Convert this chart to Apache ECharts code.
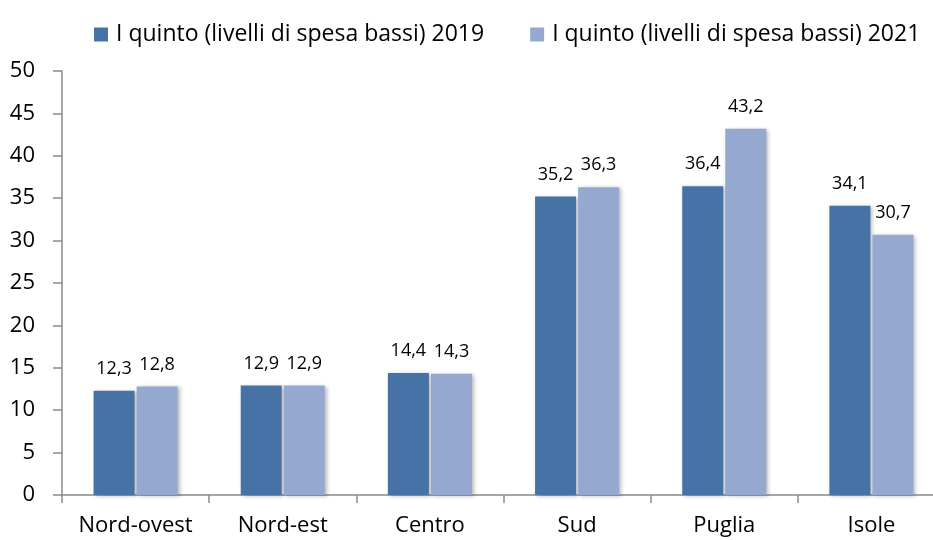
<!DOCTYPE html>
<html>
<head>
<meta charset="utf-8">
<title>I quinto - livelli di spesa bassi</title>
<script src="https://cdn.jsdelivr.net/npm/echarts@6/dist/echarts.min.js"></script>
<style>
  html, body { margin: 0; padding: 0; background: #fff; overflow: hidden; }
  /* il grafico originale è tagliato a destra: area più larga della finestra */
  #chart { width: 945px; height: 540px; }
</style>
</head>
<body>
<div id="chart"></div>
<script>
const categories = ['Nord-ovest', 'Nord-est', 'Centro', 'Sud', 'Puglia', 'Isole']
const seriesNames = ['I quinto (livelli di spesa bassi) 2019', 'I quinto (livelli di spesa bassi) 2021']
const values2019 = [12.3, 12.9, 14.4, 35.2, 36.4, 34.1]
const values2021 = [12.8, 12.9, 14.3, 36.3, 43.2, 30.7]
const colors = ['#4672A6', '#95A9D0']

const font = '"Open Sans", "Liberation Sans", sans-serif'

// etichette con la virgola decimale
const fmt = p => String(p.value).replace('.', ',')

function barSeries (name, data, color) {
  return {
    name: name,
    type: 'bar',
    data: data,
    barWidth: 41,
    barGap: '5%',
    itemStyle: {
      color: color,
      shadowColor: 'rgba(0,0,0,0.28)',
      shadowBlur: 4,
      shadowOffsetX: 2,
      shadowOffsetY: 1
    },
    label: {
      show: true,
      position: 'top',
      distance: 13,
      formatter: fmt,
      color: '#000',
      fontFamily: font,
      fontSize: 18
    }
  }
}

const chart = echarts.init(document.getElementById('chart'))
chart.setOption({
  animation: false,
  color: colors,
  legend: {
    data: seriesNames,
    left: 89,
    top: 18,
    width: 850,
    icon: 'rect',
    itemWidth: 14,
    itemHeight: 14,
    itemGap: 46,
    textStyle: {
      fontFamily: font,
      fontSize: 23,
      color: '#000',
      padding: [0, 0, 0, 3]
    }
  },
  grid: {
    left: 62,
    right: 0,
    top: 71,
    bottom: 45,
    containLabel: false
  },
  xAxis: {
    type: 'category',
    data: categories,
    axisLine: { lineStyle: { color: '#898989', width: 1.5 } },
    axisTick: { show: true, length: 8, lineStyle: { color: '#898989', width: 1.5 } },
    axisLabel: {
      interval: 0,
      margin: 20,
      fontFamily: font,
      fontSize: 22,
      color: '#000'
    }
  },
  yAxis: {
    type: 'value',
    min: 0,
    max: 50,
    interval: 5,
    splitLine: { show: false },
    axisLine: { show: true, lineStyle: { color: '#898989', width: 1.5 } },
    axisTick: { show: true, length: 9, lineStyle: { color: '#898989', width: 1.5 } },
    axisLabel: {
      margin: 27,
      fontFamily: font,
      fontSize: 22,
      color: '#000'
    }
  },
  series: [
    barSeries(seriesNames[0], values2019, colors[0]),
    barSeries(seriesNames[1], values2021, colors[1])
  ]
})
</script>
</body>
</html>
